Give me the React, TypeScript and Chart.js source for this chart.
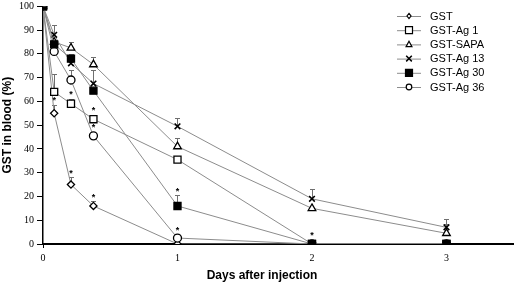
import React, { useEffect, useRef } from "react";
import { Chart, registerables } from "chart.js";

Chart.register(...registerables);

// ---- data ----
const days = [0, 0.083, 0.208, 0.375, 1, 2, 3];
const seriesNames = ["GST", "GST-Ag 1", "GST-SAPA", "GST-Ag 13", "GST-Ag 30", "GST-Ag 36"];

const gstValues = [100, 55, 25, 16, 0, 0, 0];
const ag1Values = [100, 64, 59, 52.5, 35.5, 0, 0];
const sapaValues = [100, 85, 82.5, 75.5, 41, 15, 4.5];
const ag13Values = [100, 88, 76, 67.5, 49.5, 19, 7];
const ag30Values = [100, 84, 78, 64.5, 16, 0, 0];
const ag36Values = [100, 81, 69, 45.5, 2.5, 0, 0];

// upper error (SD) per point
const gstErr = [0, 3.5, 3, 2, 0, 0, 0];
const ag1Err = [0, 7.5, 2, 1, 0, 0, 0];
const sapaErr = [0, 0, 2.5, 3, 3.5, 0, 4];
const ag13Err = [0, 4, 2, 5.5, 3.5, 4, 3.5];
const ag30Err = [0, 0, 2, 0, 4.5, 0, 0];
const ag36Err = [0, 0, 4, 1.2, 0, 0, 0];

// significance asterisks (1 = marked)
const gstStar = [0, 1, 1, 1, 0, 0, 0];
const ag1Star = [0, 0, 1, 1, 0, 0, 0];
const sapaStar = [0, 0, 0, 0, 0, 0, 0];
const ag13Star = [0, 0, 0, 0, 0, 0, 0];
const ag30Star = [0, 0, 0, 0, 1, 0, 0];
const ag36Star = [0, 0, 0, 1, 1, 1, 0];

const yTicks = [0, 10, 20, 30, 40, 50, 60, 70, 80, 90, 100];
const xTicks = [0, 1, 2, 3];
const xMax = 3.5;

const yTitle = "GST in blood (%)";
const xTitle = "Days after injection";

// ---- styles ----
const markerStyles = ["rectRot", "rect", "triangle", "crossRot", "rect", "circle"];
const markerFills = ["#fff", "#fff", "#fff", "#fff", "#000", "#fff"];
const markerRadius = [3.6, 5, 4.4, 4, 5, 4];
const drawOrder = [5, 4, 3, 2, 0, 1];
const lineColor = "#8c8c8c";

const allValues = [gstValues, ag1Values, sapaValues, ag13Values, ag30Values, ag36Values];
const allErr = [gstErr, ag1Err, sapaErr, ag13Err, ag30Err, ag36Err];
const allStar = [gstStar, ag1Star, sapaStar, ag13Star, ag30Star, ag36Star];

function drawMarker(ctx: CanvasRenderingContext2D, style: string, x: number, y: number, r: number, fill: string) {
  ctx.save();
  ctx.beginPath();
  ctx.lineWidth = 1.2;
  ctx.strokeStyle = "#000";
  ctx.fillStyle = fill;
  if (style === "rectRot") {
    ctx.moveTo(x, y - r);
    ctx.lineTo(x + r * 0.8, y);
    ctx.lineTo(x, y + r);
    ctx.lineTo(x - r * 0.8, y);
    ctx.closePath();
    ctx.fill();
    ctx.stroke();
  } else if (style === "rect") {
    ctx.rect(x - r, y - r, 2 * r, 2 * r);
    ctx.fill();
    ctx.stroke();
  } else if (style === "triangle") {
    ctx.moveTo(x, y - r);
    ctx.lineTo(x + r * 0.95, y + r * 0.75);
    ctx.lineTo(x - r * 0.95, y + r * 0.75);
    ctx.closePath();
    ctx.fill();
    ctx.stroke();
  } else if (style === "crossRot") {
    ctx.lineWidth = 1.5;
    ctx.moveTo(x - r, y - r);
    ctx.lineTo(x + r, y + r);
    ctx.moveTo(x + r, y - r);
    ctx.lineTo(x - r, y + r);
    ctx.stroke();
  } else {
    ctx.arc(x, y, r, 0, Math.PI * 2);
    ctx.fill();
    ctx.stroke();
  }
  ctx.restore();
}

const errorBarPlugin = {
  id: "errorBars",
  beforeDatasetsDraw(chart: any) {
    const ctx = chart.ctx;
    const xs = chart.scales.x;
    const ys = chart.scales.y;
    ctx.save();
    ctx.strokeStyle = "#6f6f6f";
    ctx.lineWidth = 1;
    allValues.forEach((vals, si) => {
      vals.forEach((v, j) => {
        const e = allErr[si][j];
        if (!e) return;
        const x = Math.round(xs.getPixelForValue(days[j])) + 0.5;
        const y0 = ys.getPixelForValue(v);
        const y1 = Math.round(ys.getPixelForValue(v + e)) + 0.5;
        ctx.beginPath();
        ctx.moveTo(x, y0);
        ctx.lineTo(x, y1);
        ctx.moveTo(x - 2.5, y1);
        ctx.lineTo(x + 2.5, y1);
        ctx.stroke();
      });
    });
    ctx.restore();
  },
  afterDatasetsDraw(chart: any) {
    const ctx = chart.ctx;
    const xs = chart.scales.x;
    const ys = chart.scales.y;
    ctx.save();
    ctx.fillStyle = "#000";
    ctx.font = "bold 9px 'Liberation Sans', Arial, sans-serif";
    ctx.textAlign = "center";
    ctx.textBaseline = "middle";
    allValues.forEach((vals, si) => {
      vals.forEach((v, j) => {
        if (!allStar[si][j]) return;
        const e = allErr[si][j];
        const x = xs.getPixelForValue(days[j]);
        const py = ys.getPixelForValue(v);
        const top = Math.min(ys.getPixelForValue(v + e), py - markerRadius[si]);
        ctx.fillText("*", x, top - 4);
      });
    });
    ctx.restore();
  },
  afterDraw(chart: any) {
    const ctx = chart.ctx;
    const area = chart.chartArea;
    ctx.save();
    // legend
    const lx0 = 397;
    const lx1 = 421;
    const ly0 = 16;
    const dy = 14.2;
    ctx.font = "11px 'Liberation Sans', Arial, sans-serif";
    ctx.textBaseline = "middle";
    ctx.textAlign = "left";
    seriesNames.forEach((name, i) => {
      const y = ly0 + i * dy;
      ctx.strokeStyle = lineColor;
      ctx.lineWidth = 1;
      ctx.beginPath();
      ctx.moveTo(lx0, y + 0.5);
      ctx.lineTo(lx1, y + 0.5);
      ctx.stroke();
      drawMarker(ctx, markerStyles[i], (lx0 + lx1) / 2, y, markerRadius[i] * 0.7, markerFills[i]);
      ctx.fillStyle = "#000";
      ctx.fillText(name, 430, y + 0.5);
    });
    // axis titles
    ctx.fillStyle = "#000";
    ctx.font = "bold 12px 'Liberation Sans', Arial, sans-serif";
    ctx.textAlign = "center";
    ctx.textBaseline = "middle";
    ctx.fillText(xTitle, 262, 276);
    ctx.translate(8, (area.top + area.bottom) / 2);
    ctx.rotate(-Math.PI / 2);
    ctx.fillText(yTitle, 0, 0);
    ctx.restore();
  },
};

export default function App() {
  const canvasRef = useRef<HTMLCanvasElement | null>(null);

  useEffect(() => {
    document.body.style.margin = "0";
    const canvas = canvasRef.current;
    if (!canvas) return;
    const datasets = allValues.map((vals, i) => ({
      label: seriesNames[i],
      data: vals.map((v, j) => ({ x: days[j], y: v })),
      order: drawOrder[i],
      borderColor: lineColor,
      borderWidth: 1,
      pointStyle: markerStyles[i] as any,
      pointRadius: markerRadius[i],
      pointBackgroundColor: markerFills[i],
      pointBorderColor: "#000",
      pointBorderWidth: i === 3 ? 1.6 : 1.3,
      tension: 0,
      fill: false,
    }));

    const chart = new Chart(canvas, {
      type: "line",
      data: { datasets },
      plugins: [errorBarPlugin],
      options: {
        animation: false,
        responsive: false,
        devicePixelRatio: 1,
        layout: { padding: { top: 4, right: 2, left: 0, bottom: 0 } },
        plugins: {
          legend: { display: false },
          tooltip: { enabled: false },
        },
        scales: {
          x: {
            type: "linear",
            min: 0,
            max: xMax,
            afterBuildTicks: (axis: any) => {
              axis.ticks = xTicks.map((v) => ({ value: v }));
            },
            afterFit: (scale: any) => {
              scale.height = 42;
              scale.paddingLeft = 0;
              scale.paddingRight = 0;
            },
            grid: {
              drawOnChartArea: false,
              drawTicks: true,
              tickLength: 4,
              tickColor: (c: any) => (c.tick && c.tick.value === 0 ? "#000" : "rgba(0,0,0,0)"),
            },
            border: { display: true, color: "#000", width: 2 },
            ticks: {
              color: "#000",
              padding: 4,
              maxRotation: 0,
              font: { family: "'Liberation Serif', 'Times New Roman', serif", size: 10 },
            },
          },
          y: {
            type: "linear",
            min: 0,
            max: 100,
            afterBuildTicks: (axis: any) => {
              axis.ticks = yTicks.map((v) => ({ value: v }));
            },
            afterFit: (scale: any) => {
              scale.width = 43;
              scale.paddingTop = 0;
              scale.paddingBottom = 0;
            },
            grid: {
              drawOnChartArea: false,
              drawTicks: true,
              tickLength: 6,
              tickColor: "#000",
              tickWidth: 1,
            },
            border: { display: true, color: "#000", width: 1.5 },
            ticks: {
              color: "#000",
              padding: 3,
              font: { family: "'Liberation Serif', 'Times New Roman', serif", size: 10 },
            },
          },
        },
      },
    });
    return () => chart.destroy();
  }, []);

  return (
    <div style={{ position: "absolute", left: 0, top: 0, width: 520, height: 286, background: "#fff" }}>
      <canvas ref={canvasRef} width={520} height={286} style={{ display: "block" }} />
    </div>
  );
}
